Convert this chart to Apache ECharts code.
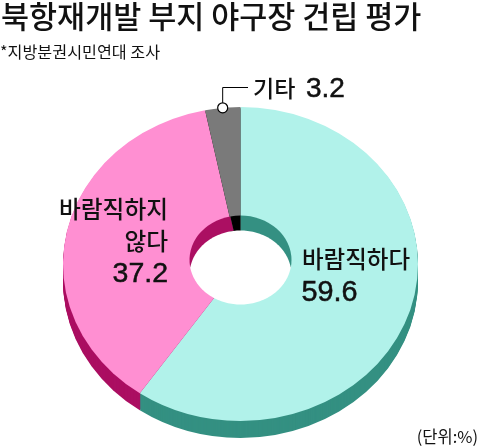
<!DOCTYPE html>
<html><head><meta charset="utf-8">
<style>html,body{margin:0;padding:0;background:#fff}#c{width:480px;height:448px}</style>
<script src="https://cdn.jsdelivr.net/npm/echarts@6/dist/echarts.min.js"></script>
</head><body><div id="c"></div>
<script>
const categories = ['바람직하다', '바람직하지 않다', '기타'];
const values = [59.6, 37.2, 3.2];
const faceColors = ['#B1F2EA', '#FF8FD2', '#7A7A7A'];
const sideColors = ['#349082', '#AB0F62', '#000000'];
const titleText = '북항재개발 부지 야구장 건립 평가';
const subtitleText = '*지방분권시민연대 조사';
const unitText = '(단위:%)';

const KR = '"Noto Sans CJK KR"';
const NUM = '"Liberation Sans"';
const G = {cx:240.5, cy:264, rx:177.5, ry:157, depth:17, hcy:260, hrx:51, hry:44.5, wall:15};
const total = values.reduce((a,b)=>a+b,0);
const TAU = Math.PI*2, START = -Math.PI/2;
function angles(i){
  let s = 0; for(let k=0;k<i;k++) s += values[k];
  return [START + s/total*TAU, START + (s+values[i])/total*TAU];
}
function ell(cx,cy,rx,ry,a0,a1,color){
  return {type:'sector', x:cx, y:cy, scaleY:ry/rx,
    shape:{cx:0,cy:0,r:rx,r0:0,startAngle:a0,endAngle:a1,clockwise:true},
    style:{fill:color}, silent:true};
}
const rows = values.map(v=>[v]);
function series(fn, data){ return {type:'custom', coordinateSystem:'none', data:data||rows, renderItem:fn, animation:false, silent:true, clip:false}; }

function rimItem(){
  const ch=[];
  for(let d=G.depth;d>=1;d--) values.forEach((v,i)=>{
    const [a0,a1]=angles(i);
    ch.push(ell(G.cx,G.cy+d,G.rx,G.ry,a0,a1,sideColors[i]));
  });
  return {type:'group',children:ch};
}
function faceItem(p){
  const [a0,a1]=angles(p.dataIndex);
  return ell(G.cx,G.cy,G.rx,G.ry,a0,a1,faceColors[p.dataIndex]);
}
const wallLim = Math.asin((G.wall/2)/G.hry);
function wallItem(p){
  const i=p.dataIndex; const [a0,a1]=angles(i);
  const ch=[];
  if(i===0) ch.push(ell(G.cx,G.hcy,G.hrx,G.hry,a0,wallLim,sideColors[i]));
  else if(i===1) ch.push(ell(G.cx,G.hcy,G.hrx,G.hry,Math.PI-wallLim,a1,sideColors[i]));
  else {
    ch.push(ell(G.cx,G.hcy,G.hrx,G.hry,a0,a1,sideColors[i]));
    ch.push(ell(G.cx,G.hcy+G.wall,G.hrx,G.hry,a0,a1,sideColors[i]));
  }
  return {type:'group',children:ch};
}
function holeItem(){
  const pts=[], n=80, t=wallLim;
  for(let k=0;k<=n;k++){
    const a=Math.PI+t+(Math.PI-2*t)*k/n;
    pts.push([G.cx+G.hrx*Math.cos(a), G.hcy+G.wall+G.hry*Math.sin(a)]);
  }
  for(let k=0;k<=n;k++){
    const a=t+(Math.PI-2*t)*k/n;
    pts.push([G.cx+G.hrx*Math.cos(a), G.hcy+G.hry*Math.sin(a)]);
  }
  return {type:'polygon',shape:{points:pts},style:{fill:'#fff'},silent:true};
}
function leaderItem(){
  const [a0,a1]=angles(2), m=(a0+a1)/2;
  const x=G.cx+G.rx*Math.cos(m), y=G.cy+G.ry*Math.sin(m);
  return {type:'group',children:[
    {type:'polyline',shape:{points:[[x,y],[x,87.5],[248,87.5]]},style:{stroke:'#000',lineWidth:1,fill:null},silent:true},
    {type:'circle',shape:{cx:x,cy:y,r:5},style:{fill:'#fff',stroke:'#000',lineWidth:1.2},silent:true}
  ]};
}
function txt(s,x,y,size,family,align,weight,heavy){
  const style={text:s,fontSize:size,fontFamily:family,fontWeight:weight||400,fill:'#111',align:align||'left',verticalAlign:'middle'};
  if(heavy){style.stroke='#111';style.lineWidth=heavy;}
  return {type:'text',x:x,y:y,silent:true,z:10,style:style};
}
const chart = echarts.init(document.getElementById('c'),null,{renderer:'canvas'});
chart.setOption({
  animation:false,
  backgroundColor:'#fff',
  series:[series(rimItem,[[0]]),series(faceItem),series(wallItem),series(holeItem,[[0]]),series(leaderItem,[[0]])],
  graphic:[
    txt(titleText,1,16,30.5,KR,'left',500),
    txt(subtitleText,0,52,16.2,KR,'left',400),
    txt(categories[2],253,88,23,KR,'left',500),
    txt(String(values[2]),306,89,28,NUM,'left',400,0.5),
    txt(categories[1].split(' ')[0],168,209,23.7,KR,'right',500),
    txt(categories[1].split(' ')[1],168,241,23.7,KR,'right',500),
    txt(String(values[1]),168,274,28.5,NUM,'right',400,0.5),
    txt(categories[0],302,259,23.5,KR,'left',500),
    txt(String(values[0]),301.5,293,28.8,NUM,'left',400,0.5),
    txt(unitText,478,437,16.5,KR,'right',400)
  ]
});
</script>
</body></html>
